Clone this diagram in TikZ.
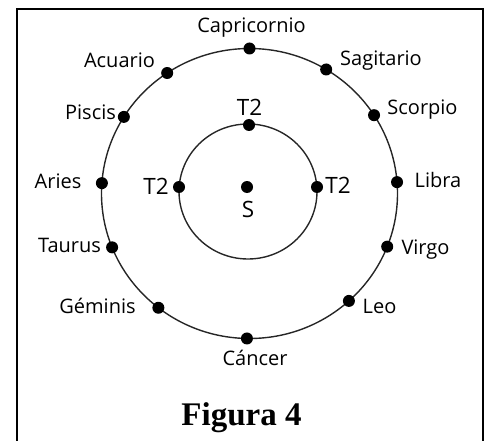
\documentclass[tikz,border=0pt]{standalone}
\usepackage{fontspec}
\setmainfont{Open Sans}
\newfontfamily\figfont{Liberation Serif}
\begin{document}
\begin{tikzpicture}[x=1pt,y=-1pt,
  lbl/.style={font=\fontsize{20}{24}\selectfont, anchor=base, inner sep=0pt, text=black},
  biglbl/.style={font=\fontsize{22.5}{26}\selectfont, anchor=base, inner sep=0pt, text=black},
  dot/.style={circle, fill=black, inner sep=0pt, minimum size=12pt},
  orbit/.style={draw=black!85, line width=1.4pt},
  frame/.style={draw=black, line width=1.5pt}]
\useasboundingbox (0,0) rectangle (487,441);
\draw[frame] (17,446) -- (17,9) -- (483,9) -- (483,446);
% orbits
\draw[orbit] (249.5,193.5) ellipse [x radius=148pt, y radius=145pt];
\draw[orbit] (248,191.5) ellipse [x radius=69pt, y radius=67.5pt];
% outer dots
\foreach \n/\a in {cap/90, acu/123.8, sag/58.8, pis/148.1, sco/32.7, ari/175.9,
                   lib/4.5, tau/201.8, vir/338.5, gem/232, leo/312.2, can/269}
  \node[dot] (\n) at ({249.5+148*cos(\a)},{193.5-145*sin(\a)}) {};
% inner dots
\node[dot] (t2top) at (249,125) {};
\node[dot] (t2left) at (179,187) {};
\node[dot] (t2right) at (317,187) {};
\node[dot] (sun) at (247,187) {};
% labels
\node[lbl] (lcap) at (251.5,33) {Capricornio};
\node[lbl] (lacu) at (119.5,68) {Acuario};
\node[lbl] (lsag) at (381,66) {Sagitario};
\node[lbl] (lpis) at (90.5,120) {Piscis};
\node[lbl] (lsco) at (422.5,114) {Scorpio};
\node[lbl] (lari) at (58,188) {Aries};
\node[lbl] (llib) at (438,187) {Libra};
\node[lbl] (ltau) at (69.5,252) {Taurus};
\node[lbl] (lvir) at (425.5,254) {Virgo};
\node[lbl] (lgem) at (97.5,313) {Géminis};
\node[lbl] (lleo) at (379.5,313) {Leo};
\node[lbl] (lcan) at (255,365) {Cáncer};
\node[biglbl] (lt2top) at (249.5,116) {T2};
\node[biglbl] (lt2left) at (156,194) {T2};
\node[biglbl] (lt2right) at (338,193) {T2};
\node[biglbl] (lsun) at (248,217) {S};
\node[anchor=base, inner sep=0pt, font=\figfont\bfseries\fontsize{33}{38}\selectfont] (title) at (241.5,425) {Figura 4};
\end{tikzpicture}
\end{document}
